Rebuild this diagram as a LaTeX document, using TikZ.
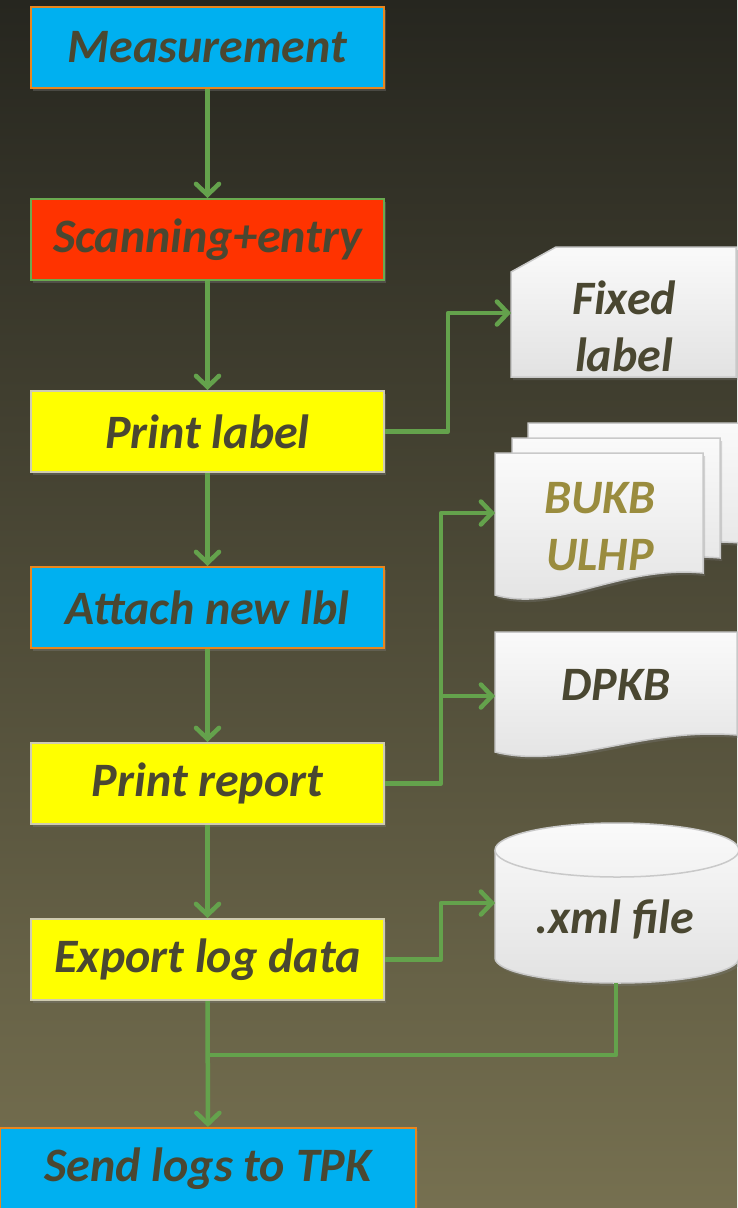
\documentclass[tikz,border=0pt]{standalone}
\usepackage{fontspec}
\setmainfont{Carlito}
\usetikzlibrary{arrows.meta,shadows,calc}
\definecolor{bgtop}{HTML}{26261F}
\definecolor{bgmid}{HTML}{55533B}
\definecolor{bgbot}{HTML}{767050}
\definecolor{cyanb}{HTML}{00B0F0}
\definecolor{redb}{HTML}{FF3300}
\definecolor{yellowb}{HTML}{FFFF00}
\definecolor{orangeb}{HTML}{E8861E}
\definecolor{greenb}{HTML}{6AAA50}
\definecolor{grayb}{HTML}{CFCBB0}
\definecolor{txt}{HTML}{4A4731}
\definecolor{olivetxt}{HTML}{9A8C3E}
\definecolor{conncol}{HTML}{64A24C}
\definecolor{doctop}{HTML}{FAFAFA}
\definecolor{docbot}{HTML}{E2E2E2}
\definecolor{docline}{HTML}{C9C9C9}
\tikzset{
  lbl/.style={font=\fontsize{48}{57}\selectfont\bfseries\itshape, text=txt, inner sep=0pt, align=center},
  box/.style={lbl, rectangle, minimum width=353pt, minimum height=81pt, line width=2pt,
    drop shadow={shadow xshift=2pt, shadow yshift=-3pt, opacity=0.35}},
  conn/.style={draw=conncol, line width=4.5pt, line join=round,
    -{Straight Barb[length=11pt, width=23pt, line cap=round]}},
  plainconn/.style={draw=conncol, line width=4.5pt, line join=round},
  docshape/.style={top color=doctop, bottom color=docbot, draw=docline, line width=1.5pt,
    drop shadow={shadow xshift=2pt, shadow yshift=-3pt, opacity=0.3}}
}
\newcommand{\docpath}[5]{% L T R Br B
  \path[docshape] (#1,#2) -- (#3,#2) -- (#3,#4)
    .. controls ({#3-0.4*(#3-#1)},{#4-8}) and ({#1+0.3*(#3-#1)},{#5+18}) .. (#1,#5) -- cycle;}
\begin{document}
\begin{tikzpicture}[x=1pt,y=-1pt]
\useasboundingbox (0,0) rectangle (737,1208);
\shade[top color=bgtop, middle color=bgmid, bottom color=bgbot] (0,0) rectangle (737,1208);

% documents and shapes
\path[docshape] (511,272) -- (556,247) -- (736,247) -- (736,377) -- (511,377) -- cycle;
\docpath{528}{423}{740}{543}{565}
\docpath{512}{438}{720}{558}{580}
\docpath{495}{453}{703}{573}{595}
\docpath{495}{632}{737}{735}{752}
% cylinder
\path[docshape] (495,850) -- (495,958) arc[start angle=180, end angle=360, x radius=122pt, y radius=25pt]
  -- (739,850) arc[start angle=0, end angle=180, x radius=122pt, y radius=27pt] -- cycle;
\draw[docline, line width=1.5pt] (495,850) arc[start angle=180, end angle=360, x radius=122pt, y radius=27pt];

% main boxes
\node[box, fill=cyanb, draw=orangeb] (meas) at (207.5,47.5) {Measurement};
\node[box, fill=redb, draw=greenb] (scan) at (207.5,239.5) {Scanning+entry};
\node[box, fill=yellowb, draw=grayb] (plabel) at (207.5,431.5) {Print label};
\node[box, fill=cyanb, draw=orangeb] (attach) at (207.5,607.5) {Attach new lbl};
\node[box, fill=yellowb, draw=grayb] (prep) at (207.5,783.5) {Print report};
\node[box, fill=yellowb, draw=grayb] (exp) at (207.5,959.5) {Export log data};
\node[box, fill=cyanb, draw=orangeb, minimum width=416pt] (send) at (208,1168.5) {Send logs to TPK};

% side texts
\node[lbl] (fixed) at (624,326) {Fixed\\label};
\node[lbl, text=olivetxt] (bukb) at (600,527) {BUKB\\ULHP};
\node[lbl] (dpkb) at (616,685) {DPKB};
\node[lbl] (xml) at (615,919) {.xml file};
\coordinate (fixedin) at (511,313);
\coordinate (bukbin) at (495,513);
\coordinate (dpkbin) at (495,696);
\coordinate (xmlin) at (495,903);
\coordinate (xmlbot) at (616,983);
\coordinate (jn) at (207.5,1055);

% connectors
\draw[conn] (meas) -- (scan);
\draw[conn] (scan) -- (plabel);
\draw[conn] (plabel) -- (attach);
\draw[conn] (attach) -- (prep);
\draw[conn] (prep) -- (exp);
\draw[conn] (exp) -- (send);
\draw[conn] (plabel.east) -- ++(63,0) |- (fixedin);
\draw[conn] (prep.east) -- ++(56,0) coordinate (jr) |- (bukbin);
\draw[conn] (jr) |- (dpkbin);
\draw[conn] (exp.east) -- ++(56,0) |- (xmlin);
\draw[plainconn] (xmlbot) |- (jn);
\end{tikzpicture}
\end{document}
